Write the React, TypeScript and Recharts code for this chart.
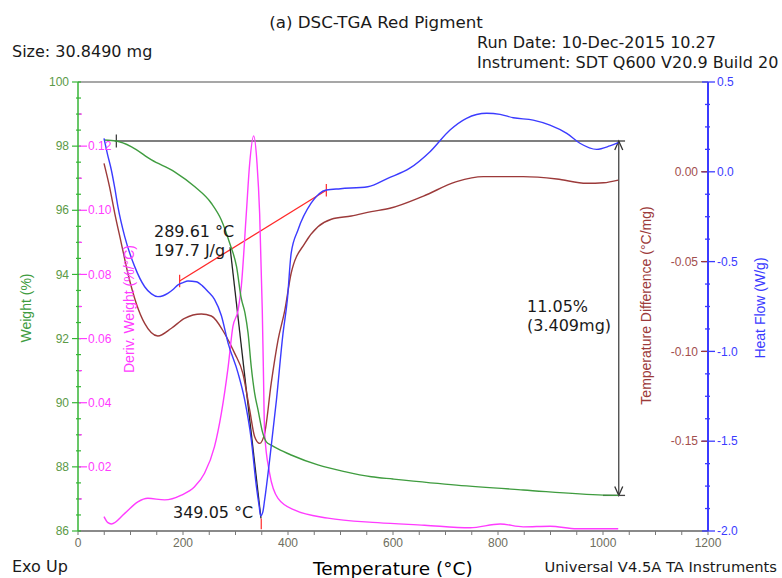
import React from 'react';
import { LineChart, Line, XAxis, YAxis, ReferenceLine } from 'recharts';

// TGA weight (%) vs temperature (°C)
const weightT = [49.5, 73, 102, 140, 184, 222, 254, 273, 289, 302, 311, 318, 324, 330, 336.5, 343, 352, 358.7, 368, 381, 406, 457, 508, 558.7, 600, 721, 848, 1001, 1029];
const weightPct = [98.19, 98.16, 97.98, 97.57, 97.2, 96.74, 96.22, 95.7, 94.97, 94.24, 93.25, 92.8, 92.16, 91.12, 90.29, 89.77, 89.05, 88.78, 88.68, 88.56, 88.37, 88.06, 87.85, 87.69, 87.62, 87.43, 87.28, 87.12, 87.11];

// Deriv. weight (%/°C)
const derivT = [49.5, 57, 63.5, 89, 114, 133, 165, 197, 222, 241, 260, 273, 286, 295, 305, 311, 320.6, 327, 334.6, 341, 346, 351, 353, 355.5, 365, 381, 413, 476, 571, 660, 747, 804, 848, 899, 950, 1029];
const derivVal = [0.0045, 0.0026, 0.0022, 0.0055, 0.0091, 0.0102, 0.0097, 0.0112, 0.0138, 0.018, 0.0263, 0.0367, 0.0512, 0.0637, 0.0689, 0.0762, 0.099, 0.1146, 0.1232, 0.1146, 0.099, 0.0689, 0.0514, 0.0305, 0.018, 0.0102, 0.0065, 0.004, 0.0026, 0.0018, 0.001, 0.0022, 0.0013, 0.0015, 0.0007, 0.0007];

// Heat flow (W/g)
const heatT = [49.5, 56, 63.5, 70, 76, 89, 108, 127, 140, 152, 162, 171, 181, 190.5, 200, 209.5, 225, 237, 248, 260, 273, 286, 305, 317.5, 330, 339.7, 345, 348, 352, 355.5, 365, 378, 390.5, 398.7, 406, 419, 444, 473, 500, 552, 590, 632, 670.5, 708.6, 740, 778.5, 804, 829, 867, 899, 931, 956, 988, 1013, 1029];
const heatVal = [0.186, 0.1, 0.01, -0.09, -0.194, -0.361, -0.528, -0.64, -0.68, -0.695, -0.69, -0.677, -0.655, -0.63, -0.617, -0.608, -0.612, -0.635, -0.668, -0.71, -0.8, -0.955, -1.122, -1.27, -1.49, -1.75, -1.86, -1.916, -1.895, -1.827, -1.605, -1.27, -0.9, -0.714, -0.454, -0.324, -0.175, -0.101, -0.094, -0.083, -0.036, 0.02, 0.112, 0.233, 0.298, 0.326, 0.32, 0.301, 0.288, 0.26, 0.214, 0.159, 0.125, 0.144, 0.162];

// Temperature difference (°C/mg)
const tdT = [49.5, 60, 70, 82.5, 95, 111, 127, 152, 178, 203, 235, 254, 279, 298.5, 314, 327, 336.5, 346, 355.5, 368, 381, 394, 406, 432, 457, 482.5, 520.6, 558.7, 594, 658, 721, 772, 848, 912, 969, 1001, 1029];
const tdVal = [0.0047, -0.0083, -0.0231, -0.0398, -0.0565, -0.0733, -0.0844, -0.0914, -0.0871, -0.0816, -0.0792, -0.0803, -0.0899, -0.1011, -0.1122, -0.1326, -0.1475, -0.1512, -0.1456, -0.1178, -0.0937, -0.077, -0.0565, -0.0398, -0.0306, -0.0264, -0.0246, -0.0222, -0.0203, -0.0135, -0.0055, -0.0027, -0.0027, -0.004, -0.0064, -0.0061, -0.0046];

// ticks
const tempTicks = Array.from({ length: 25 }, (_, i) => i * 50);
const weightTicks = Array.from({ length: 29 }, (_, i) => 86 + i * 0.5);
const derivTicks = [0.01, 0.02, 0.03, 0.04, 0.05, 0.06, 0.07, 0.08, 0.09, 0.1, 0.11, 0.12, 0.13];
const heatTicks = Array.from({ length: 21 }, (_, i) => -2 + i * 0.125);
const tdTicks = [-0.15, -0.1, -0.05, 0];

// annotations
const stepTop = 98.16;
const stepBottom = 87.11;
const stepStartT = 73;
const stepArrowT = 1030;
const peakOnset = 289.61;
const peakT = 349.05;
const baseStart = { x: 193.6, y: -0.608 };
const baseEnd = { x: 473, y: -0.103 };

const GREEN = '#3f9c3f';
const GREEN_AXIS = '#36b536';
const GREEN_LABEL = '#5b9a48';
const PINK = '#ff3cff';
const BLUE = '#3b3bff';
const BROWN = '#9c3a3a';
const BROWN_LABEL = '#a24e4e';
const RED = '#ff2a2a';
const TEXT_FONT = '"DejaVu Sans", Verdana, sans-serif';
const AXIS_FONT = '"Liberation Sans", Arial, sans-serif';
const TICK_SIZE = 12;

const pts = (ts: number[], vs: number[]) => ts.map((t, i) => ({ t, v: vs[i] }));

const TempTick = ({ x, y, payload }: any) => {
  const v = payload.value;
  return (
    <g>
      <line x1={x} x2={x} y1={y} y2={y + 4} stroke="#777" strokeWidth={1} />
      {v % 200 === 0 && (
        <text x={x} y={y + 16} textAnchor="middle" fontSize={TICK_SIZE} fontFamily={AXIS_FONT} fill="#6e6e5e">
          {v}
        </text>
      )}
    </g>
  );
};

const WeightTick = ({ x, y, payload }: any) => {
  const v = payload.value;
  const major = Math.abs(v / 2 - Math.round(v / 2)) < 1e-6;
  return (
    <g>
      <line x1={major ? x - 6 : x - 2} x2={x + 3} y1={y} y2={y} stroke={GREEN_AXIS} strokeWidth={1.2} />
      {major && (
        <text x={x - 9} y={y} dy="0.35em" textAnchor="end" fontSize={TICK_SIZE} fontFamily={AXIS_FONT} fill={GREEN_LABEL}>
          {v}
        </text>
      )}
    </g>
  );
};

const DerivTick = ({ x, y, payload }: any) => {
  const v = payload.value;
  const major = Math.round(v * 100) % 2 === 0;
  return (
    <g>
      <line x1={x + 1} x2={major ? x + 9 : x + 4} y1={y} y2={y} stroke={PINK} strokeWidth={1.2} />
      {major && (
        <text x={x + 10} y={y} dy="0.35em" textAnchor="start" fontSize={TICK_SIZE} fontFamily={AXIS_FONT} fill={PINK}>
          {v.toFixed(2)}
        </text>
      )}
    </g>
  );
};

const HeatTick = ({ x, y, payload }: any) => {
  const v = payload.value;
  const major = Math.abs(v * 2 - Math.round(v * 2)) < 1e-6;
  return (
    <g>
      <line x1={major ? x - 6 : x - 3} x2={major ? x + 7 : x + 2} y1={y} y2={y} stroke={BLUE} strokeWidth={1.3} />
      {major && (
        <text x={x + 9} y={y} dy="0.35em" textAnchor="start" fontSize={TICK_SIZE} fontFamily={AXIS_FONT} fill={BLUE}>
          {Math.abs(v) < 1e-9 ? '0.0' : v.toFixed(1)}
        </text>
      )}
    </g>
  );
};

const TdTick = ({ x, y, payload }: any) => {
  const v = payload.value;
  return (
    <g>
      <line x1={x - 7} x2={x - 1} y1={y} y2={y} stroke={BROWN} strokeWidth={1.2} />
      <text x={x - 10} y={y} dy="0.35em" textAnchor="end" fontSize={TICK_SIZE} fontFamily={AXIS_FONT} fill={BROWN_LABEL}>
        {Math.abs(v) < 1e-9 ? '0.00' : v.toFixed(2)}
      </text>
    </g>
  );
};

const DoubleArrow = (p: any) => (
  <g>
    <line x1={p.x1} y1={p.y1} x2={p.x2} y2={p.y2} stroke="#444" strokeWidth={1.3} />
    <polyline points={`${p.x1 - 4},${p.y1 + 9} ${p.x1},${p.y1} ${p.x1 + 4},${p.y1 + 9}`} fill="none" stroke="#333" strokeWidth={1.3} />
    <polyline points={`${p.x2 - 4},${p.y2 - 9} ${p.x2},${p.y2} ${p.x2 + 4},${p.y2 - 9}`} fill="none" stroke="#333" strokeWidth={1.3} />
  </g>
);

export default function App() {
  return (
    <div style={{ position: 'absolute', left: 0, top: 0, width: 782, height: 578, background: '#fff' }}>
      <LineChart width={782} height={578} margin={{ top: 82, right: 0, bottom: 0, left: 0 }}>
        <XAxis
          type="number"
          dataKey="t"
          domain={[0, 1200]}
          ticks={tempTicks}
          interval={0}
          height={47}
          tickSize={0}
          tickMargin={0}
          tickLine={false}
          axisLine={{ stroke: '#8a8a8a', strokeWidth: 2 }}
          tick={<TempTick />}
        />
        <YAxis
          yAxisId="w"
          orientation="left"
          domain={[86, 100]}
          ticks={weightTicks}
          interval={0}
          width={78}
          tickSize={0}
          tickMargin={0}
          tickLine={false}
          axisLine={{ stroke: GREEN_AXIS, strokeWidth: 1.5 }}
          tick={<WeightTick />}
        />
        <YAxis
          yAxisId="d"
          orientation="left"
          mirror
          domain={[0, 0.14]}
          ticks={derivTicks}
          interval={0}
          width={40}
          tickSize={0}
          tickMargin={0}
          tickLine={false}
          axisLine={false}
          tick={<DerivTick />}
        />
        <YAxis
          yAxisId="hf"
          orientation="right"
          domain={[-2, 0.5]}
          ticks={heatTicks}
          interval={0}
          width={74}
          tickSize={0}
          tickMargin={0}
          tickLine={false}
          axisLine={{ stroke: BLUE, strokeWidth: 2 }}
          tick={<HeatTick />}
        />
        <YAxis
          yAxisId="td"
          orientation="right"
          mirror
          domain={[-0.2, 0.05]}
          ticks={tdTicks}
          interval={0}
          width={40}
          tickSize={0}
          tickMargin={0}
          tickLine={false}
          axisLine={false}
          tick={<TdTick />}
        />

        <ReferenceLine yAxisId="w" y={100} stroke="#8a8a8a" strokeWidth={1.5} ifOverflow="visible" />
        <ReferenceLine yAxisId="w" segment={[{ x: stepStartT - 3, y: stepTop }, { x: 1042, y: stepTop }]} stroke="#555" strokeWidth={1.5} />
        <ReferenceLine yAxisId="w" segment={[{ x: stepStartT, y: stepTop + 0.2 }, { x: stepStartT, y: stepTop - 0.2 }]} stroke="#333" strokeWidth={1.2} />
        <ReferenceLine yAxisId="w" segment={[{ x: stepArrowT, y: stepTop }, { x: stepArrowT, y: stepBottom }]} shape={DoubleArrow} />
        <ReferenceLine yAxisId="w" segment={[{ x: 1000, y: stepBottom }, { x: 1042, y: stepBottom }]} stroke="#444" strokeWidth={1.3} />

        <ReferenceLine yAxisId="hf" segment={[baseStart, baseEnd]} stroke={RED} strokeWidth={1.3} />
        <ReferenceLine yAxisId="hf" segment={[{ x: baseStart.x, y: baseStart.y + 0.035 }, { x: baseStart.x, y: baseStart.y - 0.035 }]} stroke={RED} strokeWidth={1.2} />
        <ReferenceLine yAxisId="hf" segment={[{ x: baseEnd.x, y: baseEnd.y + 0.035 }, { x: baseEnd.x, y: baseEnd.y - 0.035 }]} stroke={RED} strokeWidth={1.2} />
        <ReferenceLine yAxisId="hf" segment={[{ x: peakOnset, y: -0.42 }, { x: peakT - 0.5, y: -1.93 }]} stroke="#222" strokeWidth={1.3} />
        <ReferenceLine yAxisId="hf" segment={[{ x: peakT, y: -1.93 }, { x: peakT, y: -1.99 }]} stroke={RED} strokeWidth={1.2} />

        <Line yAxisId="td" data={pts(tdT, tdVal)} dataKey="v" type="monotone" stroke={BROWN} strokeWidth={1.4} dot={false} activeDot={false} isAnimationActive={false} />
        <Line yAxisId="d" data={pts(derivT, derivVal)} dataKey="v" type="monotone" stroke={PINK} strokeWidth={1.4} dot={false} activeDot={false} isAnimationActive={false} />
        <Line yAxisId="w" data={pts(weightT, weightPct)} dataKey="v" type="monotone" stroke={GREEN} strokeWidth={1.4} dot={false} activeDot={false} isAnimationActive={false} />
        <Line yAxisId="hf" data={pts(heatT, heatVal)} dataKey="v" type="monotone" stroke={BLUE} strokeWidth={1.4} dot={false} activeDot={false} isAnimationActive={false} />
      </LineChart>

      <svg width={782} height={578} style={{ position: 'absolute', left: 0, top: 0, pointerEvents: 'none' }}>
        <g fontFamily={TEXT_FONT} fill="#1a1a1a">
          <text x={376} y={28} textAnchor="middle" fontSize={16.7}>(a) DSC-TGA Red Pigment</text>
          <text x={12} y={56.5} fontSize={16}>Size: 30.8490 mg</text>
          <text x={477} y={48.3} fontSize={16}>Run Date: 10-Dec-2015 10.27</text>
          <text x={477} y={68.3} fontSize={16}>Instrument: SDT Q600 V20.9 Build 20</text>
          <text x={154} y={236.7} fontSize={16}>289.61 °C</text>
          <text x={154} y={255.7} fontSize={16}>197.7 J/g</text>
          <text x={173} y={517.7} fontSize={16}>349.05 °C</text>
          <text x={527} y={311.7} fontSize={16}>11.05%</text>
          <text x={527} y={330.7} fontSize={16}>(3.409mg)</text>
          <text x={12} y={571.7} fontSize={16}>Exo Up</text>
          <text x={777} y={571.5} textAnchor="end" fontSize={14.7}>Universal V4.5A TA Instruments</text>
          <text x={313} y={575} fontSize={18.5} fill="#000">Temperature (°C)</text>
        </g>
        <g fontFamily={AXIS_FONT} fontSize={14} textAnchor="middle">
          <text x={26} y={308} dy="0.35em" transform="rotate(-90 26 308)" fill={GREEN}>Weight (%)</text>
          <text x={129} y={309} dy="0.35em" transform="rotate(-90 129 309)" fill={PINK}>Deriv. Weight (%/°C)</text>
          <text x={646.5} y={305.5} dy="0.35em" transform="rotate(-90 646.5 305.5)" fill={BROWN}>Temperature Difference (°C/mg)</text>
          <text x={760} y={308} dy="0.35em" transform="rotate(-90 760 308)" fill={BLUE}>Heat Flow (W/g)</text>
        </g>
      </svg>
    </div>
  );
}
